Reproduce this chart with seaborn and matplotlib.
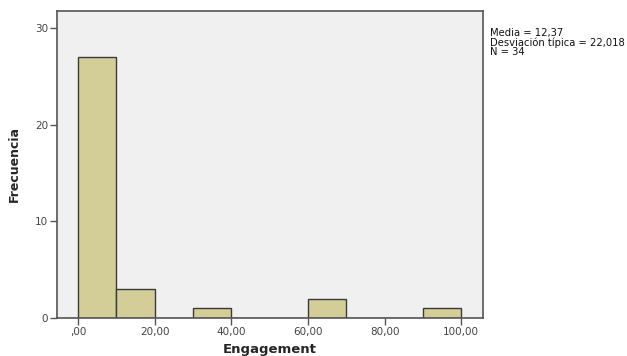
import numpy as np
import pandas as pd
import matplotlib
matplotlib.use("Agg")
import matplotlib.pyplot as plt
import seaborn as sns

# histogram of Engagement (SPSS style)
bin_edges = [0, 10, 20, 30, 40, 50, 60, 70, 80, 90, 100]
bin_mid = [5, 15, 35, 65, 95]
counts = [27, 3, 1, 2, 1]
x_ticks = [0, 20, 40, 60, 80, 100]
x_labels = [",00", "20,00", "40,00", "60,00", "80,00", "100,00"]
y_ticks = [0, 10, 20, 30]
stats_text = ["Media = 12,37", "Desviación típica = 22,018", "N = 34"]

df = pd.DataFrame({"Engagement": bin_mid, "n": counts})

sns.set_style("white")
plt.rcParams["font.family"] = ["DejaVu Sans"]

fig = plt.figure(figsize=(6.27, 3.56), dpi=100)
ax = fig.add_axes([57 / 627, 1 - 318 / 356, 426 / 627, 307 / 356])
ax.set_facecolor("#f0f0f0")

sns.histplot(
    data=df,
    x="Engagement",
    weights="n",
    bins=bin_edges,
    color="#d3ce97",
    edgecolor="#3a3a3a",
    linewidth=1.0,
    alpha=1,
    ax=ax,
)

ax.set_xlim(-5.5, 105.7)
ax.set_ylim(0, 31.8)
ax.set_xticks(x_ticks)
ax.set_xticklabels(x_labels)
ax.set_yticks(y_ticks)
ax.tick_params(axis="both", direction="out", length=5, width=1, color="#555555",
               labelsize=7.5, labelcolor="#444444", bottom=True, left=True, pad=1.5)
for s in ax.spines.values():
    s.set_color("#555555")
    s.set_linewidth(1.2)

ax.set_xlabel("Engagement", fontsize=9.5, fontweight="bold")
ax.set_ylabel("Frecuencia", fontsize=9, fontweight="bold")
ax.xaxis.set_label_coords(0.5, -0.082)
ax.yaxis.set_label_coords(-0.085, 0.5)

fig.text(490 / 627, 1 - 28 / 356, "\n".join(stats_text), fontsize=7.2,
         va="top", ha="left", linespacing=0.9, color="#111111")

fig.savefig("out.png", dpi=100)
